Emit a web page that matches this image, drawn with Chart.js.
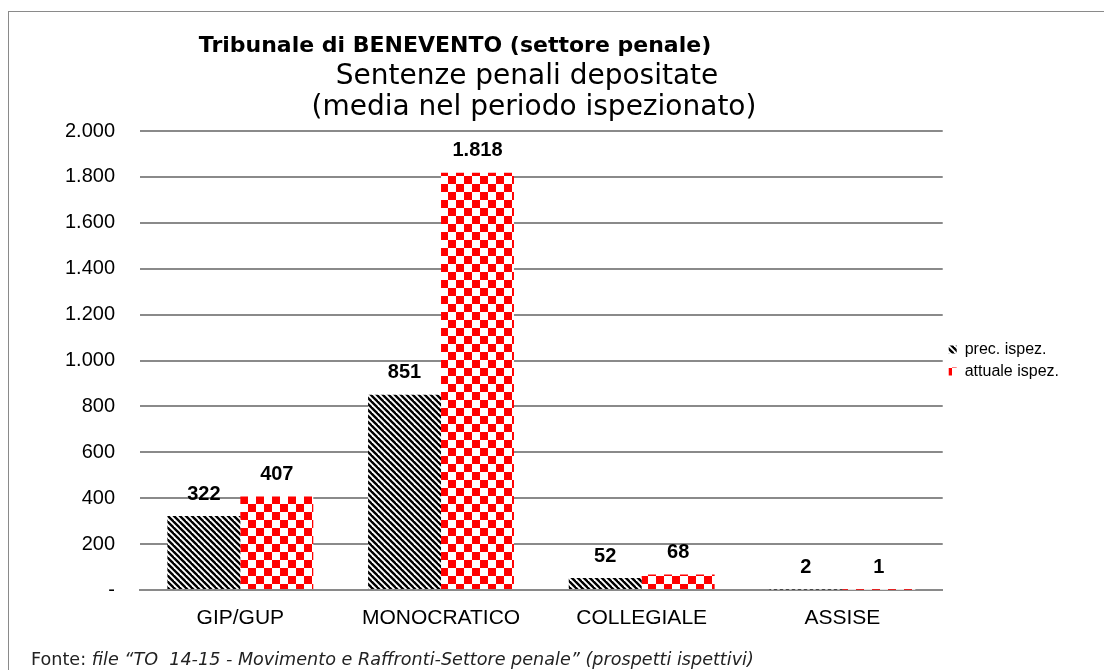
<!DOCTYPE html>
<html>
<head>
<meta charset="utf-8">
<script src="https://cdn.jsdelivr.net/npm/chart.js@4.4.1/dist/chart.umd.min.js"></script>
<style>
  html, body { margin: 0; padding: 0; background: #fff; }
  #wrap { position: relative; width: 1104px; height: 670px; overflow: hidden; }
  #frame { position: absolute; left: 8px; top: 11px; width: 1200px; height: 800px; border: 1px solid #8a8a8a; }
  canvas { position: absolute; left: 0; top: 0; }
  #fonte { position: absolute; left: 31px; top: 649px; font: 17.6px "DejaVu Sans", sans-serif; color: #222; white-space: pre; }
</style>
</head>
<body>
<div id="wrap">
  <div id="frame"></div>
  <canvas id="barChart" width="1104" height="670"></canvas>
  <div id="fonte">Fonte: <i>file “TO  14-15 - Movimento e Raffronti-Settore penale” (prospetti ispettivi)</i></div>
</div>
<script>
const categories = ['GIP/GUP', 'MONOCRATICO', 'COLLEGIALE', 'ASSISE'];
const precIspez = [322, 851, 52, 2];
const attualeIspez = [407, 1818, 68, 1];
const seriesNames = ['prec. ispez.', 'attuale ispez.'];
const titleLines = ['Tribunale di BENEVENTO (settore penale)', 'Sentenze penali depositate', '(media nel periodo ispezionato)'];
const yMax = 2000;
const yStep = 200;

// fill patterns like the Excel ones
function stripes() {
  const c = document.createElement('canvas');
  c.width = 6; c.height = 6;
  const g = c.getContext('2d');
  g.fillStyle = '#fff';
  g.fillRect(0, 0, 6, 6);
  g.strokeStyle = '#000';
  g.lineWidth = 2.4;
  for (let k = -6; k <= 6; k += 6) {
    g.beginPath();
    g.moveTo(k - 1, -1);
    g.lineTo(k + 7, 7);
    g.stroke();
  }
  return g.createPattern(c, 'repeat');
}

function checker() {
  const c = document.createElement('canvas');
  c.width = 16; c.height = 16;
  const g = c.getContext('2d');
  g.fillStyle = '#fff';
  g.fillRect(0, 0, 16, 16);
  g.fillStyle = '#ff0000';
  g.fillRect(0, 0, 8, 8);
  g.fillRect(8, 8, 8, 8);
  return g.createPattern(c, 'repeat');
}

const fmt = v => v === 0 ? '-' : v.toLocaleString('it-IT');

const barLabels = {
  id: 'barLabels',
  afterDatasetsDraw(chart) {
    const ctx = chart.ctx;
    ctx.save();
    ctx.font = 'bold 20px "Liberation Sans", Arial, sans-serif';
    ctx.fillStyle = '#000';
    ctx.textAlign = 'center';
    ctx.textBaseline = 'middle';
    chart.data.datasets.forEach((ds, i) => {
      chart.getDatasetMeta(i).data.forEach((bar, j) => {
        ctx.fillText(fmt(ds.data[j]), bar.x, bar.y - 22);
      });
    });
    ctx.restore();
  }
};

const titles = {
  id: 'titles',
  afterDraw(chart) {
    const ctx = chart.ctx;
    ctx.save();
    ctx.fillStyle = '#000';
    ctx.textAlign = 'center';
    ctx.textBaseline = 'middle';
    ctx.font = 'bold 22px "DejaVu Sans", Verdana, sans-serif';
    ctx.fillText(titleLines[0], 455, 46);
    ctx.font = '28px "DejaVu Sans", Verdana, sans-serif';
    ctx.fillText(titleLines[1], 527, 77);
    ctx.fillText(titleLines[2], 534, 108);
    ctx.restore();
  }
};

const ctx = document.getElementById('barChart').getContext('2d');

new Chart(ctx, {
  type: 'bar',
  data: {
    labels: categories,
    datasets: [
      {
        label: seriesNames[0],
        data: precIspez,
        backgroundColor: stripes(),
        barPercentage: 1,
        categoryPercentage: 0.727,
      },
      {
        label: seriesNames[1],
        data: attualeIspez,
        backgroundColor: checker(),
        barPercentage: 1,
        categoryPercentage: 0.727,
      }
    ]
  },
  plugins: [barLabels, titles],
  options: {
    responsive: false,
    animation: false,
    layout: { padding: { top: 131, left: 0, right: 35, bottom: 40 } },
    plugins: {
      legend: {
        position: 'right',
        fullSize: false,
        labels: {
          boxWidth: 8,
          boxHeight: 8,
          padding: 6,
          color: '#000',
          font: { size: 16, family: '"Liberation Sans", Arial, sans-serif' }
        }
      },
      tooltip: { enabled: false }
    },
    scales: {
      x: {
        grid: { display: false },
        border: { color: '#8a8a8a', width: 2 },
        ticks: { color: '#000', padding: 8, font: { size: 21, family: '"Liberation Sans", Arial, sans-serif' } },
        afterFit(s) { s.height = 40; }
      },
      y: {
        min: 0,
        max: yMax,
        ticks: {
          stepSize: yStep,
          color: '#000',
          padding: 25,
          font: { size: 20, family: '"Liberation Sans", Arial, sans-serif' },
          callback: v => fmt(v)
        },
        grid: { color: '#8a8a8a', lineWidth: 2, drawTicks: false },
        border: { display: false },
        afterFit(s) { s.width = 140; }
      }
    }
  }
});
</script>
</body>
</html>
